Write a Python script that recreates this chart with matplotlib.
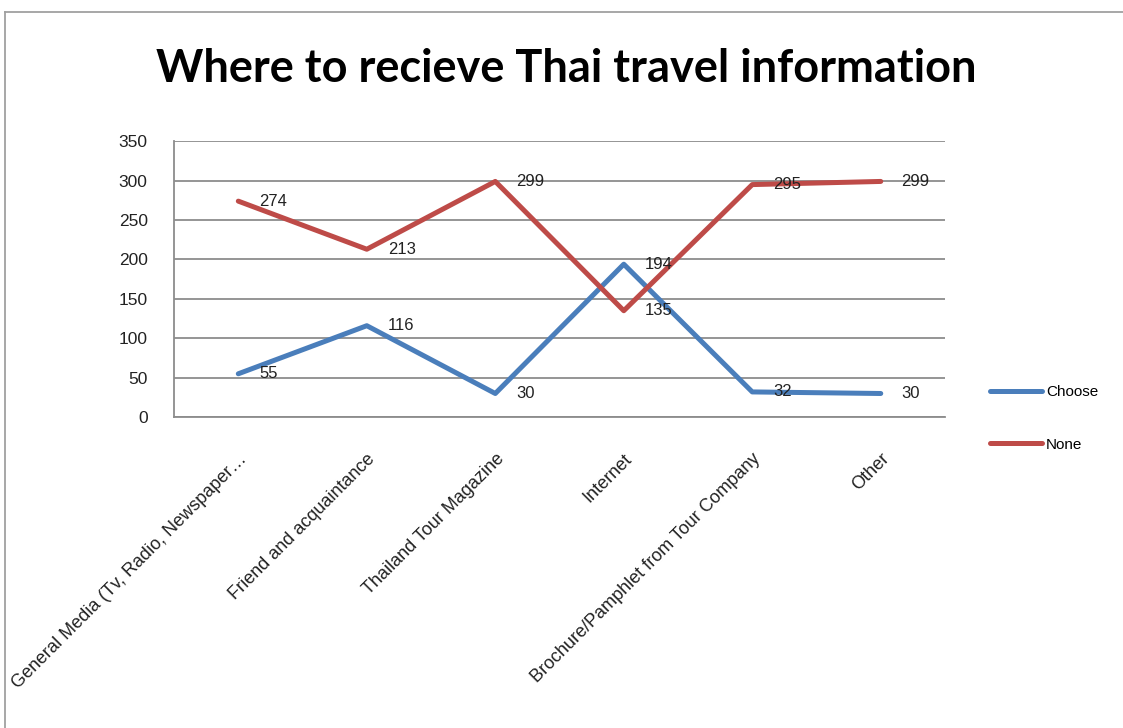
import matplotlib.pyplot as plt
from matplotlib.lines import Line2D

plt.rcParams['font.family'] = ['Liberation Sans', 'DejaVu Sans']

categories = [
    "General Media (Tv, Radio, Newspaper…",
    "Friend and acquaintance",
    "Thailand Tour Magazine",
    "Internet",
    "Brochure/Pamphlet from Tour Company",
    "Other",
]
choose = [55, 116, 30, 194, 32, 30]
none = [274, 213, 299, 135, 295, 299]
yticks = [0, 50, 100, 150, 200, 250, 300, 350]

BLUE = "#4a7ebb"
RED = "#be4b48"
GRID = "#8c8c8c"

fig = plt.figure(figsize=(11.23, 7.28), dpi=100)
ax = fig.add_axes([0.155, 0.427, 0.6865, 0.379])

x = list(range(len(categories)))
ax.plot(x, choose, color=BLUE, lw=3.6, label="Choose", solid_capstyle="round")
ax.plot(x, none, color=RED, lw=3.6, label="None", solid_capstyle="round")

# value labels sit just right of each point
for xi, v in zip(x, choose):
    ax.annotate(str(v), (xi, v), xytext=(15, 0), textcoords="offset points",
                ha="left", va="center", fontsize=12, color="#222222")
for xi, v in zip(x, none):
    ax.annotate(str(v), (xi, v), xytext=(15, 0), textcoords="offset points",
                ha="left", va="center", fontsize=12, color="#222222")

ax.set_xlim(-0.5, len(categories) - 0.5)
ax.set_ylim(0, 350)
ax.set_yticks(yticks)
ax.yaxis.grid(True, color=GRID, lw=1.3)
ax.set_axisbelow(True)
for s in ["top", "right"]:
    ax.spines[s].set_visible(False)
for s in ["left", "bottom"]:
    ax.spines[s].set_color(GRID)
    ax.spines[s].set_linewidth(1.3)
ax.tick_params(axis="y", length=0, pad=19, labelsize=12.5, labelcolor="#222222")
ax.tick_params(axis="x", length=0, pad=24)
ax.set_xticks(x)
ax.set_xticklabels(categories, rotation=45, ha="right", rotation_mode="anchor",
                   fontsize=13, color="#222222")

leg = ax.legend(loc="center left", bbox_to_anchor=(1.04, -0.005), frameon=False,
                fontsize=11, handlelength=3.4, labelspacing=2.5, handletextpad=0.3)

fig.text(0.504, 0.905, "Where to recieve Thai travel information", ha="center",
         va="center", fontsize=32.5, fontweight="bold", family="Lato")

# outer chart frame
fig.add_artist(Line2D([0.0045, 1.0], [0.984, 0.984], color="#a0a0a0", lw=1.3))
fig.add_artist(Line2D([0.0045, 0.0045], [0.0, 0.984], color="#a0a0a0", lw=1.3))

fig.savefig("out.png", dpi=100, facecolor="white")
